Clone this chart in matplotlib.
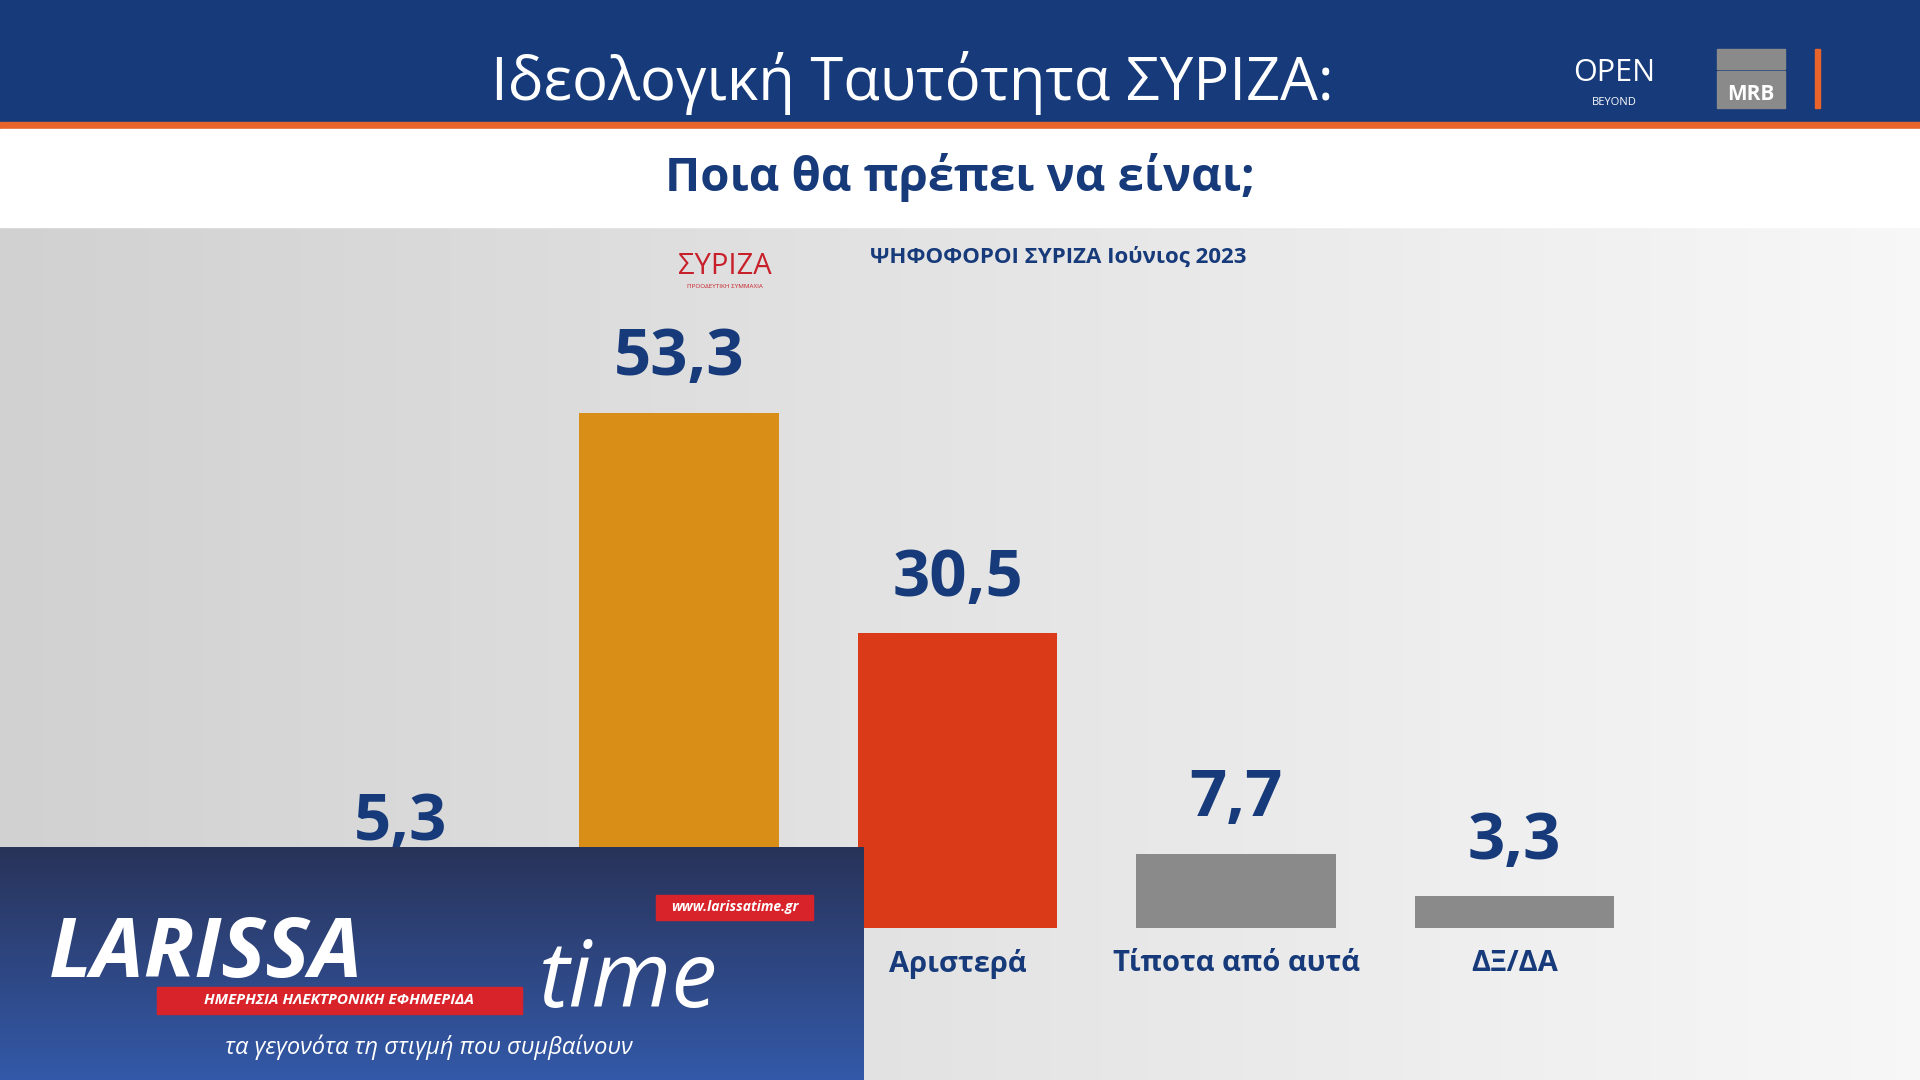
import matplotlib
matplotlib.use("Agg")
import matplotlib.pyplot as plt
import numpy as np
from matplotlib.patches import Rectangle

categories = ["Κέντρο", "Κεντροαριστερά", "Αριστερά", "Τίποτα από αυτά", "ΔΞ/ΔΑ"]
values = [5.3, 53.3, 30.5, 7.7, 3.3]
labels = ["5,3", "53,3", "30,5", "7,7", "3,3"]
colors = ["#8a8a8a", "#d98f17", "#db3a19", "#8a8a8a", "#8a8a8a"]
hidden_labels = [True, True, False, False, False]  # covered by the watermark in the reference

W, H = 1568, 882
def fx(x): return x / W
def fy(y): return 1 - y / H

plt.rcParams['font.family'] = ['Open Sans', 'DejaVu Sans']
fig = plt.figure(figsize=(19.2, 10.8), dpi=100)
bg = fig.add_axes([0, 0, 1, 1]); bg.set_axis_off(); bg.set_xlim(0, W); bg.set_ylim(H, 0)
grad = np.linspace(0, 1, 256)[None, :]
bg.imshow(np.dstack([0.82 + 0.15 * grad] * 3), extent=[0, W, H, 185], aspect='auto', zorder=0)
bg.add_patch(Rectangle((0, 0), W, 100, color="#163a7a", zorder=1))
bg.add_patch(Rectangle((0, 100), W, 5, color="#e8642a", zorder=1))
bg.add_patch(Rectangle((0, 105), W, 80, color="white", zorder=1))
bg.text(745, 68, "Ιδεολογική Ταυτότητα ΣΥΡΙΖΑ:", color="white", fontsize=43, ha="center", va="center", zorder=2)
bg.text(784, 145, "Ποια θα πρέπει να είναι;", color="#163a7a", fontsize=34, fontweight="bold", ha="center", va="center", zorder=2)
bg.text(1318, 66, "OPEN", color="white", fontsize=22, ha="center", va="baseline", zorder=2)
bg.text(1318, 86, "BEYOND", color="white", fontsize=8, ha="center", va="baseline", zorder=2)
bg.add_patch(Rectangle((1402, 40), 56, 16, color="#8a8a8a", zorder=2))
bg.add_patch(Rectangle((1402, 58), 56, 30, color="#8a8a8a", zorder=2))
bg.text(1430, 82, "MRB", color="white", fontsize=15, fontweight="bold", ha="center", va="baseline", zorder=3)
bg.add_patch(Rectangle((1482, 40), 4, 48, color="#e8642a", zorder=2))
bg.text(592, 224, "ΣΥΡΙΖΑ", color="#c8202a", fontsize=21, ha="center", va="baseline", zorder=2)
bg.text(592, 235, "ΠΡΟΟΔΕΥΤΙΚΗ ΣΥΜΜΑΧΙΑ", color="#c8202a", fontsize=4.5, ha="center", va="baseline", zorder=2)
bg.text(864, 210, "ΨΗΦΟΦΟΡΟΙ ΣΥΡΙΖΑ Ιούνιος 2023", color="#163a7a", fontsize=16, fontweight="bold", ha="center", va="center", zorder=2)

ax = fig.add_axes([fx(190.5), fy(758), (1373.5 - 190.5) / W, 474 / H])
ax.set_xlim(-0.6, 4.6); ax.set_ylim(0, 60); ax.set_axis_off()
x = np.arange(len(values))
ax.bar(x, values, width=0.716, color=colors)
for xi, v, l in zip(x, values, labels):
    ax.text(xi, v + 2.2, l, ha="center", va="bottom", fontsize=47, fontweight="bold", color="#163a7a")
for xi, c, h in zip(x, categories, hidden_labels):
    if not h:
        ax.text(xi, -3.7, c, ha="center", va="center", fontsize=21, fontweight="bold", color="#163a7a", clip_on=False)

ov = fig.add_axes([0, 0, 1, 1]); ov.set_axis_off()
g2 = np.linspace(0, 1, 256)[:, None]
c0 = np.array([0.16, 0.2, 0.35]); c1 = np.array([0.2, 0.35, 0.66])
img = c0 + (c1 - c0) * g2[..., None]
img = np.repeat(img, 2, axis=1)
ov.imshow(img, extent=[0, 705, 882, 692], aspect='auto')
ov.text(40, 798, "LARISSA", color="white", fontsize=60, fontweight="bold", fontstyle="italic", ha="left", va="baseline")
ov.text(440, 822, "time", color="white", fontsize=66, fontstyle="italic", ha="left", va="baseline")
ov.add_patch(Rectangle((128, 806), 298, 22, color="#d8232a", zorder=3))
ov.text(277, 817, "ΗΜΕΡΗΣΙΑ ΗΛΕΚΤΡΟΝΙΚΗ ΕΦΗΜΕΡΙΔΑ", color="white", fontsize=11, fontweight="bold", fontstyle="italic", ha="center", va="center", zorder=4)
ov.add_patch(Rectangle((536, 731), 128, 20, color="#d8232a"))
ov.text(600, 741, "www.larissatime.gr", color="white", fontsize=10, fontweight="bold", fontstyle="italic", ha="center", va="center")
ov.text(350, 855, "τα γεγονότα τη στιγμή που συμβαίνουν", color="white", fontsize=17, fontstyle="italic", ha="center", va="center")
ov.set_xlim(0, W); ov.set_ylim(H, 0)

fig.savefig("out.png", dpi=100)
